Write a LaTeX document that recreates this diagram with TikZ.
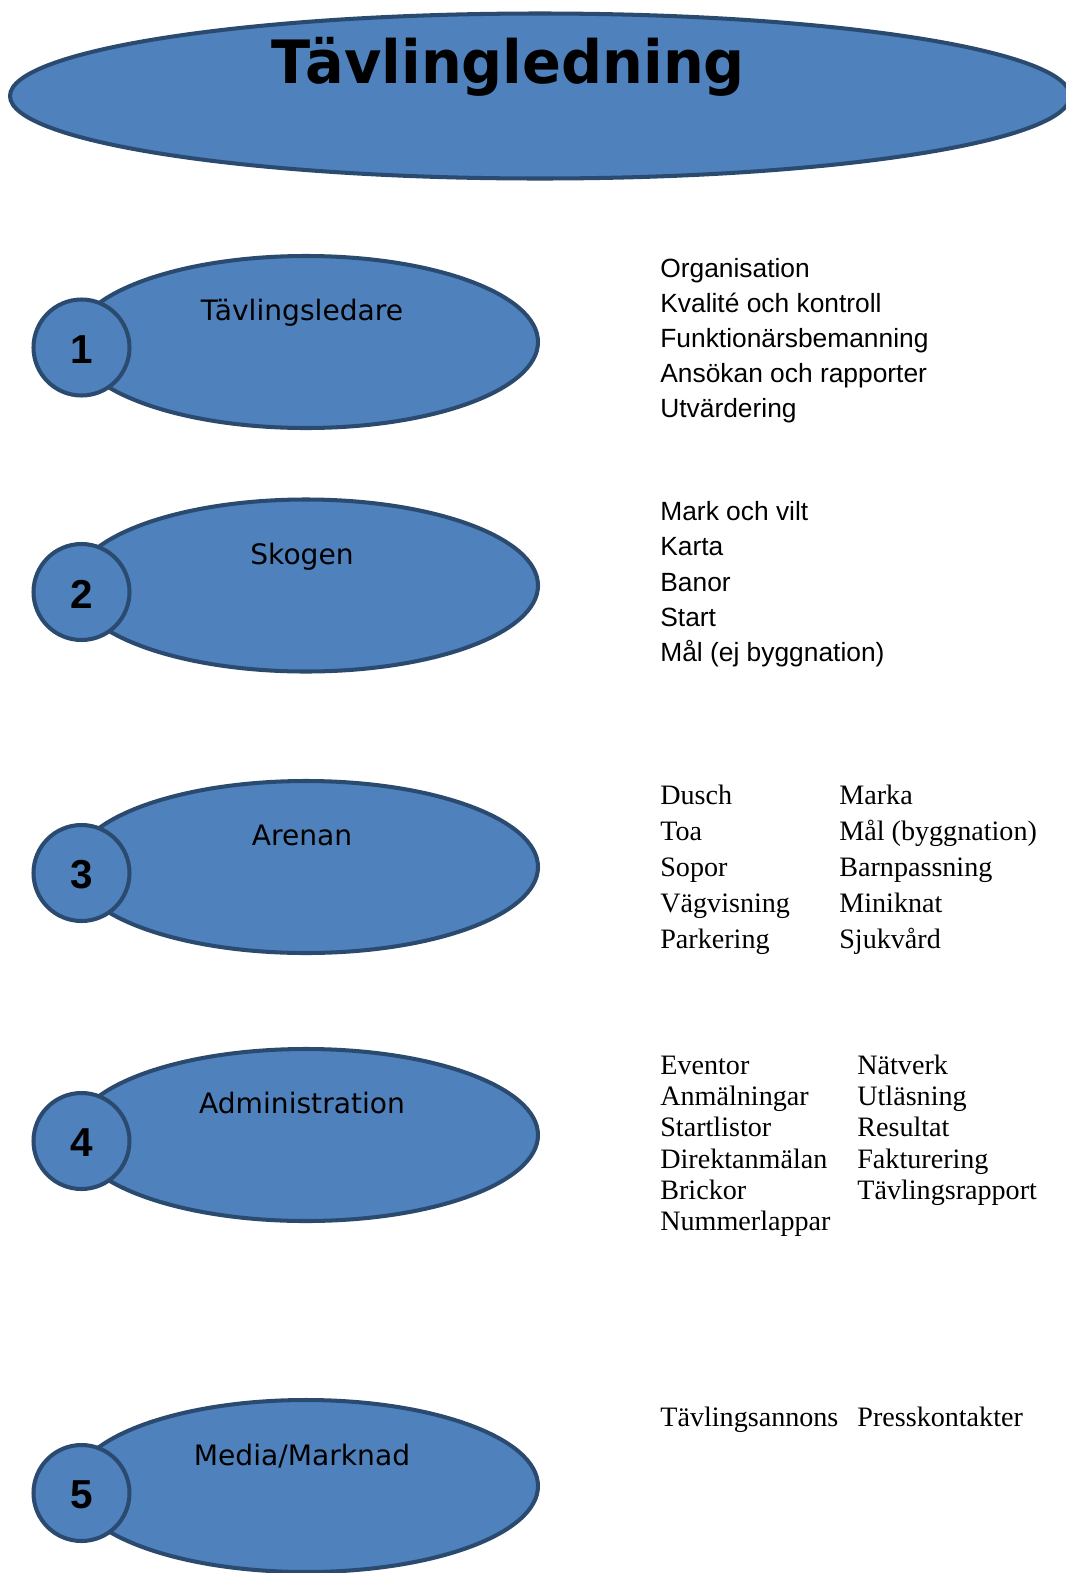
\documentclass[tikz,border=0pt]{standalone}
\usepackage{fontspec}
\setmainfont{Liberation Sans}
\newfontfamily\ovalfont{DejaVu Sans}
\newfontfamily\listserif{Liberation Serif}
\usetikzlibrary{calc}
\definecolor{ovalblue}{HTML}{4F81BD}
\definecolor{ovaledge}{HTML}{2B4A6F}
\tikzset{
	oval/.style={fill=ovalblue, draw=ovaledge, line width=2.3pt},
	ovallabel/.style={anchor=base, inner sep=0pt, font=\ovalfont\fontsize{16}{19}\selectfont},
	numlabel/.style={inner sep=0pt, font=\bfseries\fontsize{23}{27}\selectfont},
	sanslist/.style={anchor=base west, inner sep=0pt, font=\fontsize{15}{18}\selectfont},
	seriflist/.style={anchor=base west, inner sep=0pt, font=\listserif\fontsize{16}{19}\selectfont}
}

\begin{document}
\begin{tikzpicture}
		\useasboundingbox (0,0) rectangle (21.3,-31.46);
		%%%%% START %%%%%
		
		\draw[oval] (10.8,-1.92) ellipse (10.6 and 1.65);
		\node[anchor=base, inner sep=0pt, xscale=0.96, font=\ovalfont\bfseries\fontsize{34}{40}\selectfont] (title) at (10.16,-1.66) {Tävlingledning};
		
		\draw[oval] (6.12,-6.84) ellipse (4.64 and 1.72);
		\draw[oval] (1.63,-6.95) circle (0.96);
		\node[numlabel] (num1) at (1.63,-7.0) {1};
		\node[ovallabel] (leader) at (6.04,-6.41) {Tävlingsledare};
		
		\draw[oval] (6.12,-11.71) ellipse (4.64 and 1.72);
		\draw[oval] (1.63,-11.84) circle (0.96);
		\node[numlabel] (num2) at (1.63,-11.88) {2};
		\node[ovallabel] (forest) at (6.04,-11.29) {Skogen};
		
		\draw[oval] (6.12,-17.34) ellipse (4.64 and 1.72);
		\draw[oval] (1.63,-17.46) circle (0.96);
		\node[numlabel] (num3) at (1.63,-17.50) {3};
		\node[ovallabel] (arena) at (6.04,-16.91) {Arenan};
		
		\draw[oval] (6.12,-22.70) ellipse (4.64 and 1.72);
		\draw[oval] (1.63,-22.82) circle (0.96);
		\node[numlabel] (num4) at (1.63,-22.86) {4};
		\node[ovallabel] (admin) at (6.04,-22.27) {Administration};
		
		\draw[oval] (6.12,-29.72) ellipse (4.64 and 1.72);
		\draw[oval] (1.63,-29.86) circle (0.96);
		\node[numlabel] (num5) at (1.63,-29.90) {5};
		\node[ovallabel] (media) at (6.04,-29.31) {Media/Marknad};
		
		%%%%% LISTS %%%%%
		
		\foreach \item [count=\i from 0] in {Organisation, Kvalité och kontroll, Funktionärsbemanning, Ansökan och rapporter, Utvärdering}
			\node[sanslist] (leaderitem\i) at (13.2,-5.55-0.70*\i) {\item};
		
		\foreach \item [count=\i from 0] in {Mark och vilt, Karta, Banor, Start, Mål (ej byggnation)}
			\node[sanslist] (forestitem\i) at (13.2,-10.41-0.705*\i) {\item};
		
		\foreach \left/\right [count=\i from 0] in {Dusch/Marka, Toa/Mål (byggnation), Sopor/Barnpassning, Vägvisning/Miniknat, Parkering/Sjukvård}{
			\node[seriflist] (arenaleft\i) at (13.2,-16.09-0.72*\i) {\left};
			\node[seriflist] (arenaright\i) at (16.78,-16.09-0.72*\i) {\right};
		}
		
		\foreach \item [count=\i from 0] in {Eventor, Anmälningar, Startlistor, Direktanmälan, Brickor, Nummerlappar}
			\node[seriflist] (adminleft\i) at (13.2,-21.49-0.624*\i) {\item};
		\foreach \item [count=\i from 0] in {Nätverk, Utläsning, Resultat, Fakturering, Tävlingsrapport}
			\node[seriflist] (adminright\i) at (17.14,-21.49-0.624*\i) {\item};
		
		\node[seriflist] (mediaitem) at (13.2,-28.53) {Tävlingsannons\hspace{0.38cm}Presskontakter};
		
		%%%%% END %%%%%
\end{tikzpicture}
\end{document}
